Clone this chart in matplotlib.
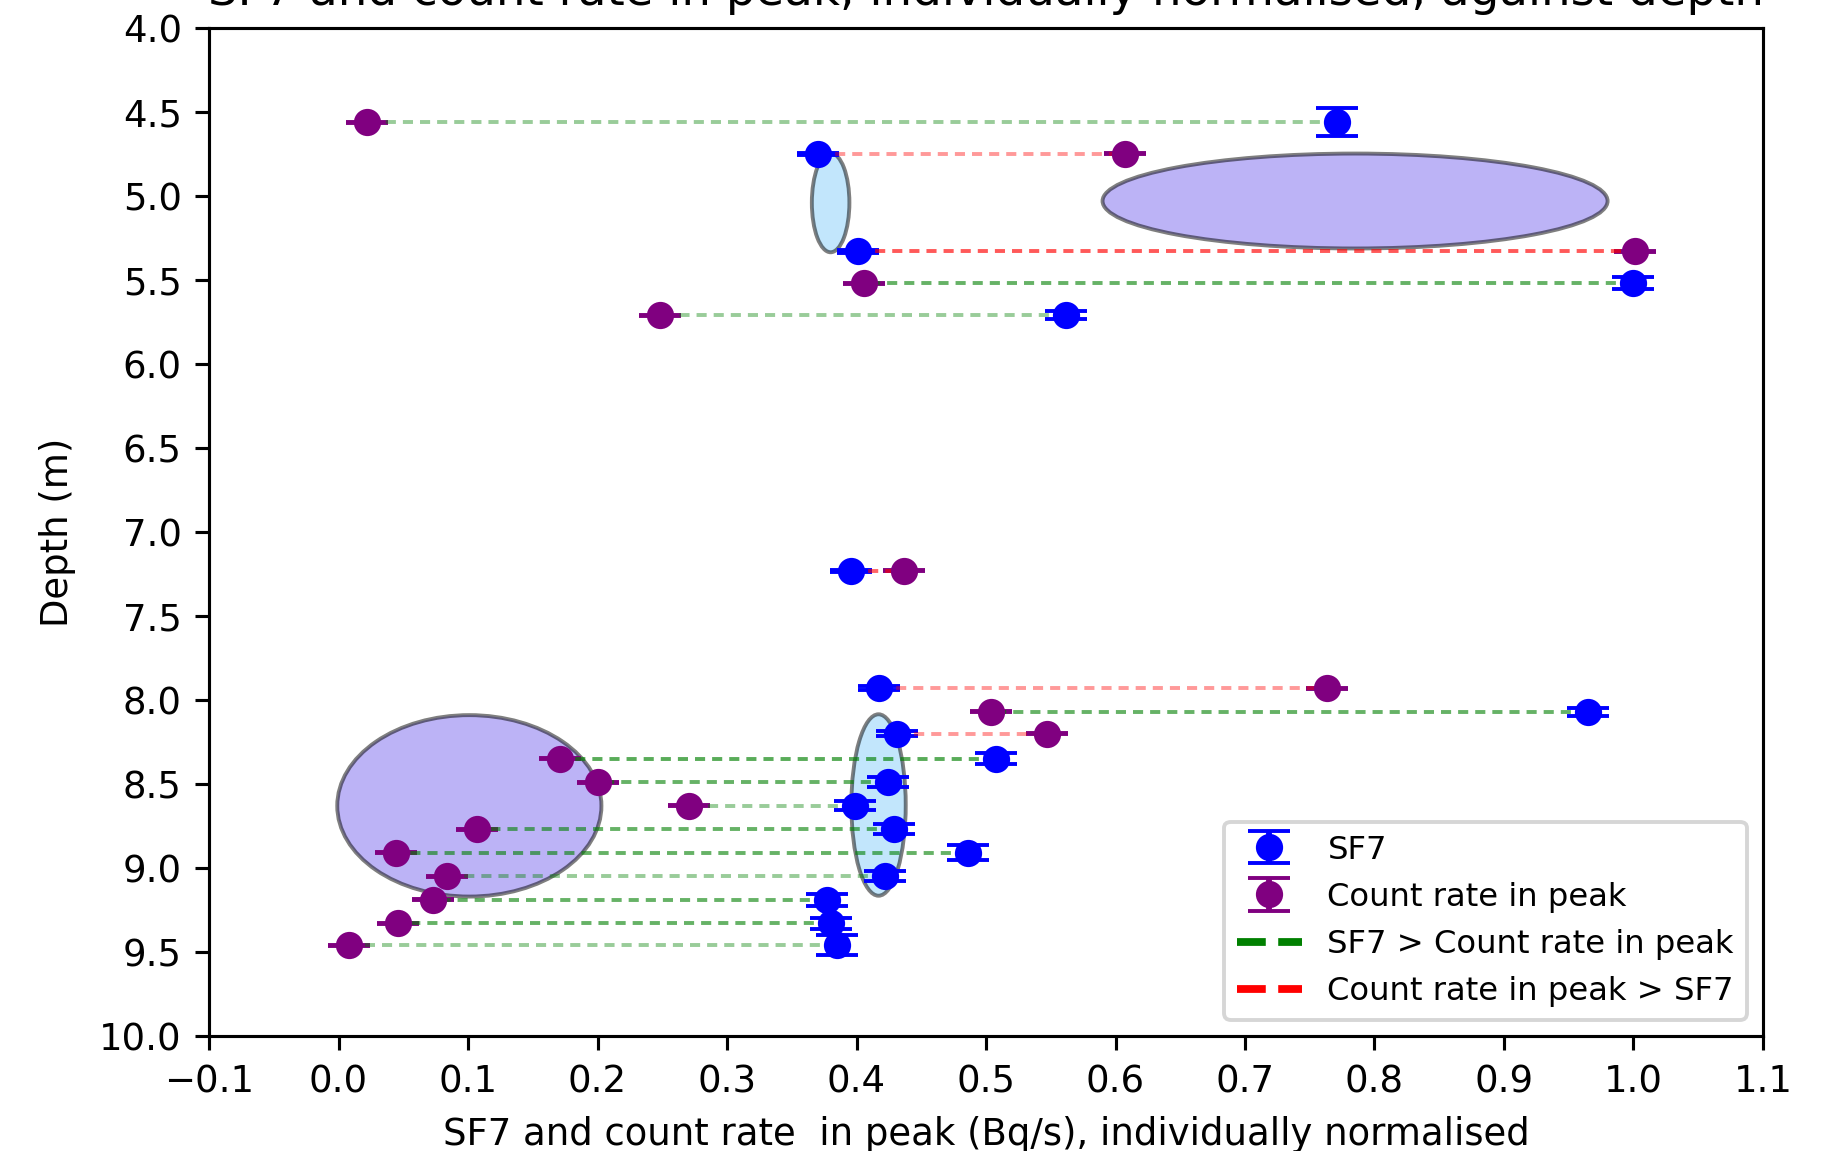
import matplotlib
matplotlib.use('Agg')
import matplotlib.pyplot as plt
from matplotlib.patches import Ellipse
from matplotlib.lines import Line2D

plt.rcParams['font.size'] = 9.5

# depth of each sample (m)
depth = [4.56, 4.75, 5.33, 5.52, 5.71, 7.23, 7.93, 8.07, 8.20,
         8.35, 8.49, 8.63, 8.77, 8.91, 9.05, 9.19, 9.33, 9.46]
# SF7, normalised
sf7 = [0.771, 0.370, 0.401, 1.000, 0.562, 0.396, 0.417, 0.965, 0.431,
       0.508, 0.424, 0.399, 0.429, 0.486, 0.422, 0.377, 0.380, 0.385]
sf7_err = [0.082, 0.008, 0.008, 0.036, 0.025, 0.006, 0.012, 0.025, 0.013,
           0.032, 0.030, 0.026, 0.030, 0.044, 0.030, 0.035, 0.035, 0.060]
# count rate in peak, normalised
peak = [0.022, 0.607, 1.001, 0.406, 0.248, 0.437, 0.763, 0.504, 0.547,
        0.171, 0.200, 0.271, 0.107, 0.044, 0.084, 0.073, 0.046, 0.008]
peak_err = [0.003] * len(depth)

# how strongly each connecting line shows up
line_alpha = [0.4, 0.4, 0.65, 0.6, 0.4, 0.6, 0.4, 0.6, 0.4,
              0.65, 0.6, 0.4, 0.6, 0.6, 0.4, 0.6, 0.6, 0.4]

# highlighted clusters: (x, depth, width, height, colour)
clusters = [
    (0.380, 5.04, 0.029, 0.59, 'lightskyblue'),
    (0.785, 5.03, 0.390, 0.565, 'mediumslateblue'),
    (0.417, 8.625, 0.042, 1.08, 'lightskyblue'),
    (0.101, 8.63, 0.204, 1.08, 'mediumslateblue'),
]

fig = plt.figure(figsize=(1829 / 280, 1151 / 280), dpi=280)
ax = fig.add_axes([0.1143, 0.0999, 0.8496, 0.8758])

for cx, cy, w, h, c in clusters:
    ax.add_patch(Ellipse((cx, cy), w, h, facecolor=c, edgecolor='black',
                         alpha=0.5, lw=1))

ax.errorbar(sf7, depth, yerr=sf7_err, fmt='o', color='blue', capsize=5.5,
            label='SF7')
ax.errorbar(peak, depth, yerr=peak_err, fmt='o', color='purple', capsize=5.5,
            label='Count rate in peak')

for d, s, p, a in zip(depth, sf7, peak, line_alpha):
    col = 'g' if s > p else 'r'
    ax.plot([s, p], [d, d], color=col, alpha=a, lw=1,
            linestyle=(0, (2.6, 1.8)))

ax.set_xlim(-0.1, 1.1)
ax.set_ylim(10, 4)
ax.set_xticks([i / 10 for i in range(-1, 12)])
ax.set_yticks([4 + i * 0.5 for i in range(13)])
ax.set_xlabel('SF7 and count rate  in peak (Bq/s), individually normalised')
ax.set_ylabel('Depth (m)', labelpad=6)
ax.set_title('SF7 and count rate in peak, individually normalised, against depth',
             fontsize=12)

handles, labels = ax.get_legend_handles_labels()
handles += [Line2D([0], [0], color='g', lw=2, linestyle='--'),
            Line2D([0], [0], color='r', lw=2, linestyle='--')]
labels += ['SF7 > Count rate in peak', 'Count rate in peak > SF7']
ax.legend(handles, labels, loc='lower right', fontsize=8.3)

fig.savefig('out.png', dpi=280)
